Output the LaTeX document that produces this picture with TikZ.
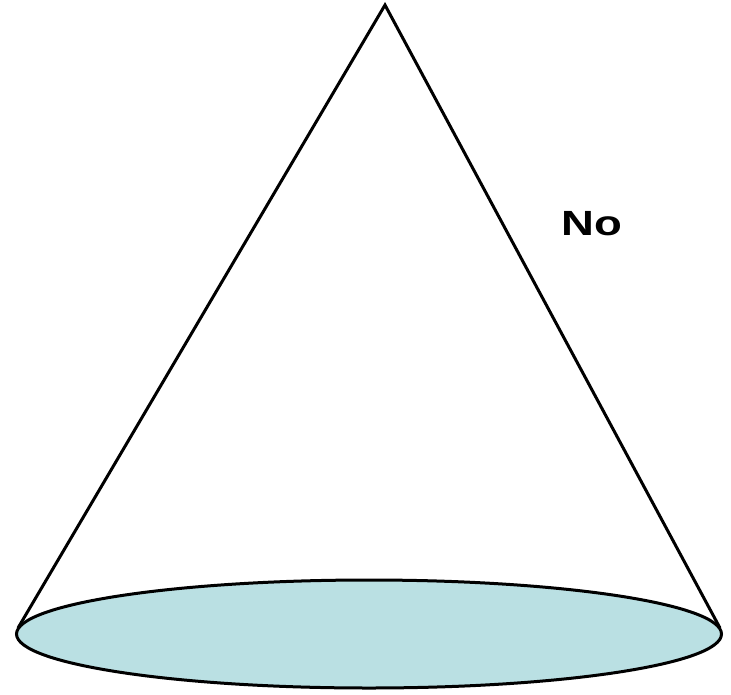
\documentclass[tikz,border=0pt]{standalone}
\usepackage{fontspec}
\setmainfont{Liberation Sans}
\usetikzlibrary{shapes.geometric}
\definecolor{BaseFill}{HTML}{BAE0E3}
\definecolor{Ink}{HTML}{000000}

\begin{document}
\begin{tikzpicture}[x=1pt,y=-1pt]
  \useasboundingbox (0,0) rectangle (731,694);
  % base of the cone
  \node[ellipse,draw=Ink,line width=3pt,fill=BaseFill,inner sep=0pt,
        minimum width=705,minimum height=108] (base) at (369,634) {};
  \coordinate (apex) at (385,5);
  \coordinate (left) at (18,628);
  \coordinate (right) at (720,628);
  \draw[Ink,line width=3pt,line join=miter] (left) -- (apex) -- (right);
  \node[font=\fontsize{35}{40}\selectfont\bfseries,Ink,xscale=1.3] (lab) at (592,224) {No};
\end{tikzpicture}
\end{document}
